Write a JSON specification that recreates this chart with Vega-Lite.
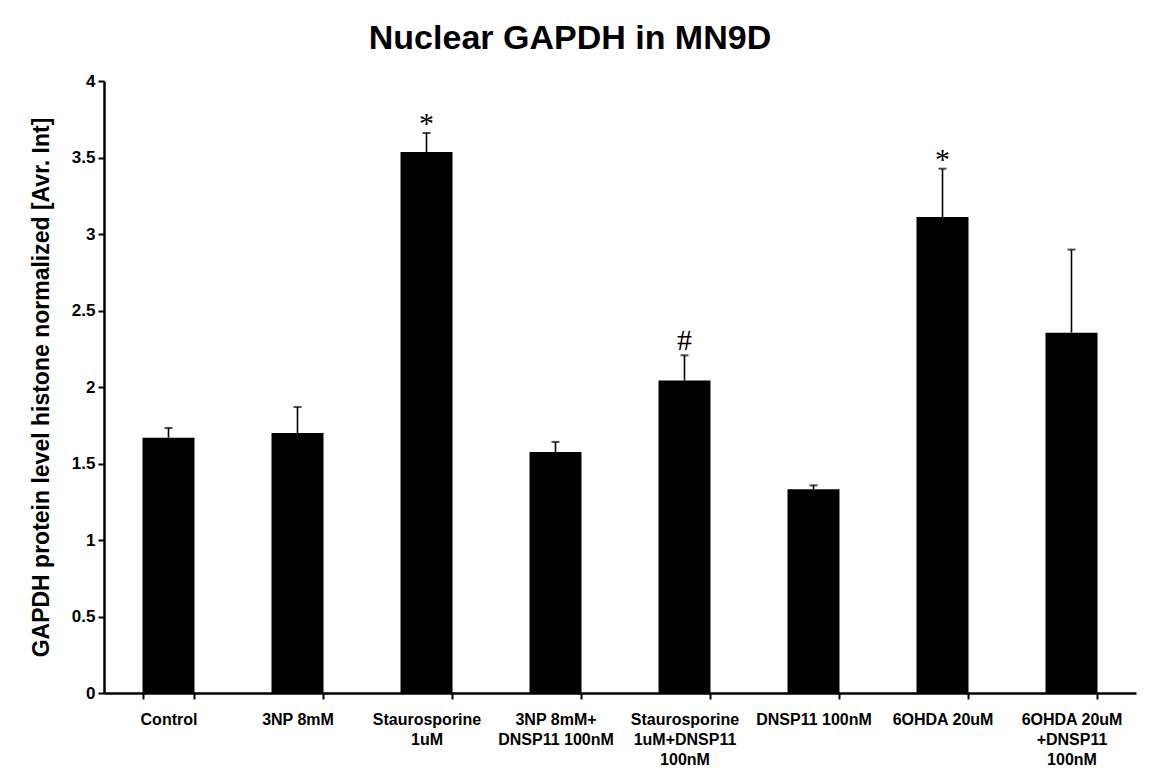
{
  "$schema": "https://vega.github.io/schema/vega-lite/v6.json",
  "autosize": "none",
  "width": 1032,
  "height": 612,
  "padding": {"left": 104, "top": 81, "right": 16, "bottom": 91},
  "background": "white",
  "title": {
    "text": "Nuclear GAPDH in MN9D",
    "font": "Liberation Sans",
    "fontSize": 34,
    "fontWeight": "bold",
    "color": "black",
    "anchor": "middle",
    "dx": -50,
    "offset": 16
  },
  "config": {
    "view": {"stroke": null},
    "axis": {
      "labelFont": "Liberation Sans",
      "labelFontWeight": "bold",
      "labelColor": "black",
      "titleFont": "Liberation Sans",
      "titleFontWeight": "bold",
      "titleColor": "black",
      "domainColor": "black",
      "tickColor": "black",
      "grid": false
    }
  },
  "data": {
    "values": [
      {"group": "Control", "value": 1.669, "upper": 1.732, "note": ""},
      {"group": "3NP 8mM", "value": 1.699, "upper": 1.869, "note": ""},
      {"group": "Staurosporine|1uM", "value": 3.536, "upper": 3.66, "note": "*"},
      {"group": "3NP 8mM+|DNSP11 100nM", "value": 1.575, "upper": 1.641, "note": ""},
      {"group": "Staurosporine|1uM+DNSP11|100nM", "value": 2.042, "upper": 2.207, "note": "#"},
      {"group": "DNSP11 100nM", "value": 1.331, "upper": 1.357, "note": ""},
      {"group": "6OHDA 20uM", "value": 3.111, "upper": 3.427, "note": "*"},
      {"group": "6OHDA 20uM|+DNSP11|100nM", "value": 2.355, "upper": 2.898, "note": ""}
    ]
  },
  "encoding": {
    "x": {
      "field": "group",
      "type": "nominal",
      "sort": null,
      "scale": {"paddingInner": 0.597, "paddingOuter": 0.2985},
      "axis": {
        "title": null,
        "labelAngle": 0,
        "labelExpr": "split(datum.label, '|')",
        "labelFontSize": 16,
        "labelLineHeight": 20,
        "labelPadding": 12,
        "tickBand": "extent",
        "tickSize": 6,
        "tickWidth": 2,
        "domainWidth": 2.5
      }
    }
  },
  "layer": [
    {
      "mark": {"type": "bar", "color": "black"},
      "encoding": {
        "y": {
          "field": "value",
          "type": "quantitative",
          "scale": {"domain": [0, 4], "nice": false},
          "axis": {
            "title": "GAPDH protein level histone normalized [Avr. Int]",
            "titleFontSize": 23,
            "titlePadding": 18,
            "values": [0, 0.5, 1, 1.5, 2, 2.5, 3, 3.5, 4],
            "format": "~g",
            "labelFontSize": 17,
            "labelPadding": 3,
            "tickSize": 6,
            "tickWidth": 2,
            "domainWidth": 2.5
          }
        }
      }
    },
    {
      "mark": {"type": "rule", "color": "black", "strokeWidth": 1.6},
      "encoding": {
        "y": {"field": "value", "type": "quantitative"},
        "y2": {"field": "upper"}
      }
    },
    {
      "mark": {"type": "tick", "color": "black", "size": 8, "thickness": 2},
      "encoding": {
        "y": {"field": "upper", "type": "quantitative"}
      }
    },
    {
      "transform": [{"filter": "datum.note == '*'"}],
      "mark": {
        "type": "text",
        "font": "Liberation Serif",
        "fontSize": 30,
        "color": "black",
        "baseline": "alphabetic",
        "dy": 0
      },
      "encoding": {
        "y": {"field": "upper", "type": "quantitative"},
        "text": {"field": "note"}
      }
    },
    {
      "transform": [{"filter": "datum.note == '#'"}],
      "mark": {
        "type": "text",
        "font": "Liberation Serif",
        "fontSize": 30,
        "color": "black",
        "baseline": "alphabetic",
        "dy": -5
      },
      "encoding": {
        "y": {"field": "upper", "type": "quantitative"},
        "text": {"field": "note"}
      }
    }
  ]
}
